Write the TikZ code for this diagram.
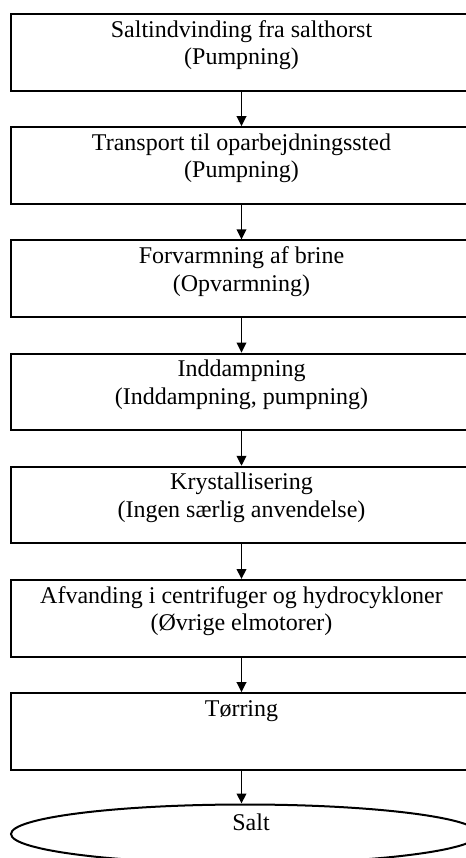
\documentclass[tikz,border=0pt]{standalone}
\usepackage{fontspec}
\setmainfont{Liberation Serif}
\usetikzlibrary{arrows.meta,shapes.geometric,calc}

\tikzset{
  stepbox/.style={draw, line width=1pt, rectangle, inner sep=0pt,
    minimum width=230.5pt, minimum height=38.25pt},
  endshape/.style={draw, line width=1pt, ellipse, inner sep=0pt,
    minimum width=234pt, minimum height=29.5pt},
  txt/.style={anchor=base, inner sep=0pt, font=\fontsize{12pt}{13.8pt}\selectfont},
  flow/.style={draw, line width=0.8pt, -{Triangle[length=5pt,width=4.8pt]}},
}

\begin{document}
\begin{tikzpicture}[x=0.5pt, y=-0.5pt]
  \useasboundingbox (0,0) rectangle (466,858);
  \clip (0,0) rectangle (466,858);

  % process steps, one box every 113.2 units
  \node[stepbox, anchor=north] (b1) at (241.5, 13.0) {};
  \node[stepbox, anchor=north] (b2) at (241.5,126.2) {};
  \node[stepbox, anchor=north] (b3) at (241.5,239.4) {};
  \node[stepbox, anchor=north] (b4) at (241.5,352.6) {};
  \node[stepbox, anchor=north] (b5) at (241.5,465.8) {};
  \node[stepbox, anchor=north] (b6) at (241.5,579.0) {};
  \node[stepbox, anchor=north] (b7) at (241.5,692.2) {};
  \node[endshape] (salt) at (245,834) {};

  % box texts: first line 24 units under the top edge, second 27.6 further
  \node[txt] (t1a) at ($(b1.north)+(0,24)$) {Saltindvinding fra salthorst};
  \node[txt] (t1b) at ($(b1.north)+(0,51.6)$) {(Pumpning)};
  \node[txt] (t2a) at ($(b2.north)+(0,24)$) {Transport til oparbejdningssted};
  \node[txt] (t2b) at ($(b2.north)+(0,51.6)$) {(Pumpning)};
  \node[txt] (t3a) at ($(b3.north)+(0,24)$) {Forvarmning af brine};
  \node[txt] (t3b) at ($(b3.north)+(0,51.6)$) {(Opvarmning)};
  \node[txt] (t4a) at ($(b4.north)+(0,24)$) {Inddampning};
  \node[txt] (t4b) at ($(b4.north)+(0,51.6)$) {(Inddampning, pumpning)};
  \node[txt] (t5a) at ($(b5.north)+(0,24)$) {Krystallisering};
  \node[txt] (t5b) at ($(b5.north)+(0,51.6)$) {(Ingen særlig anvendelse)};
  \node[txt] (t6a) at ($(b6.north)+(0,24)$) {Afvanding i centrifuger og hydrocykloner};
  \node[txt] (t6b) at ($(b6.north)+(0,51.6)$) {(Øvrige elmotorer)};
  \node[txt] (t7a) at ($(b7.north)+(0,24)$) {Tørring};
  \node[txt] (tsalt) at (251,830.7) {Salt};

  % connectors
  \draw[flow] (b1.south) -- (b2.north);
  \draw[flow] (b2.south) -- (b3.north);
  \draw[flow] (b3.south) -- (b4.north);
  \draw[flow] (b4.south) -- (b5.north);
  \draw[flow] (b5.south) -- (b6.north);
  \draw[flow] (b6.south) -- (b7.north);
  \draw[flow] (b7.south) -- (b7.south |- salt.north);
\end{tikzpicture}
\end{document}
